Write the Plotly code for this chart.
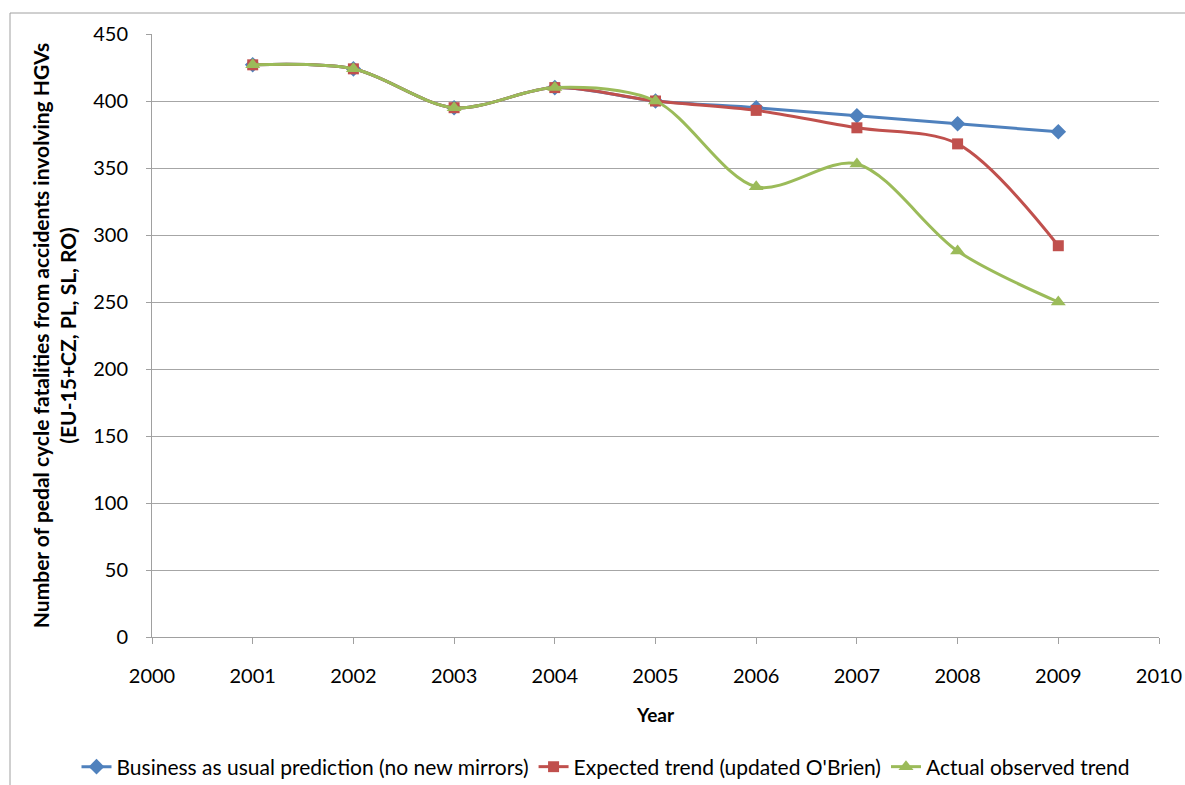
import plotly.graph_objects as go

years = [2001, 2002, 2003, 2004, 2005, 2006, 2007, 2008, 2009]
business_as_usual = [427, 424, 395, 410, 400, 395, 389, 383, 377]
expected_trend = [427, 424, 395, 410, 400, 393, 380, 368, 292]
observed_trend = [427, 424, 395, 410, 400, 336, 353, 288, 250]

series = [
    ("Business as usual prediction (no new mirrors)", business_as_usual, "#4F81BD", "diamond", 12),
    ("Expected trend (updated O'Brien)", expected_trend, "#C0504D", "square", 11),
    ("Actual observed trend", observed_trend, "#9BBB59", "triangle-up", 13),
]

FONT = "Lato, sans-serif"

fig = go.Figure()
for name, vals, color, symbol, size in series:
    fig.add_trace(go.Scatter(
        x=years, y=vals, name=name, mode="lines+markers",
        line=dict(color=color, width=3, shape="spline", smoothing=0.9),
        marker=dict(symbol=symbol, size=size, color=color),
    ))

W, H = 1185, 785
# plot area in pixels: x 152..1159, y 34..637
ML, MR, T, B = 4, 4, 34, 148
gw = W - ML - MR
ph = H - T - B
dom = [(152 - ML) / gw, (1159 - ML) / gw]

def px(x):
    return (x - ML) / gw

def py(y):
    return (H - B - y) / ph

fig.update_layout(
    width=W, height=H,
    margin=dict(l=ML, r=MR, t=T, b=B, autoexpand=False),
    paper_bgcolor="white", plot_bgcolor="white",
    font=dict(family=FONT, size=20, color="black"),
    showlegend=True,
    legend=dict(orientation="h", x=px(606), xanchor="center", y=py(767), yanchor="middle",
                font=dict(size=21), itemwidth=30, tracegroupgap=0),
    xaxis=dict(
        domain=dom,
        range=[2000, 2010], tickmode="linear", dtick=1, tick0=2000,
        showgrid=False, zeroline=False,
        showline=True, linecolor="#A0A0A0", linewidth=1,
        ticks="outside", ticklen=6, tickcolor="#A0A0A0",
        tickfont=dict(size=20), ticklabelstandoff=15,
        title=dict(text="<b>Year</b>", font=dict(size=19), standoff=22),
    ),
    yaxis=dict(
        range=[0, 450], tickmode="linear", dtick=50,
        showgrid=True, gridcolor="#A6A6A6", gridwidth=1,
        zeroline=False,
        showline=True, linecolor="#A0A0A0", linewidth=1,
        ticks="outside", ticklen=5, tickcolor="#A0A0A0",
        tickfont=dict(size=20), ticklabelstandoff=14,
        title=dict(text="<b>Number of pedal cycle fatalities from accidents involving HGVs<br>(EU-15+CZ, PL, SL, RO)</b>",
                   font=dict(size=21), standoff=10),
    ),
    shapes=[dict(type="rect", xref="paper", yref="paper",
                 x0=px(10), x1=px(1200), y0=py(800), y1=py(13),
                 line=dict(color="#A0A0A0", width=1), fillcolor="rgba(0,0,0,0)", layer="below")],
)

fig.write_html("out.html")
